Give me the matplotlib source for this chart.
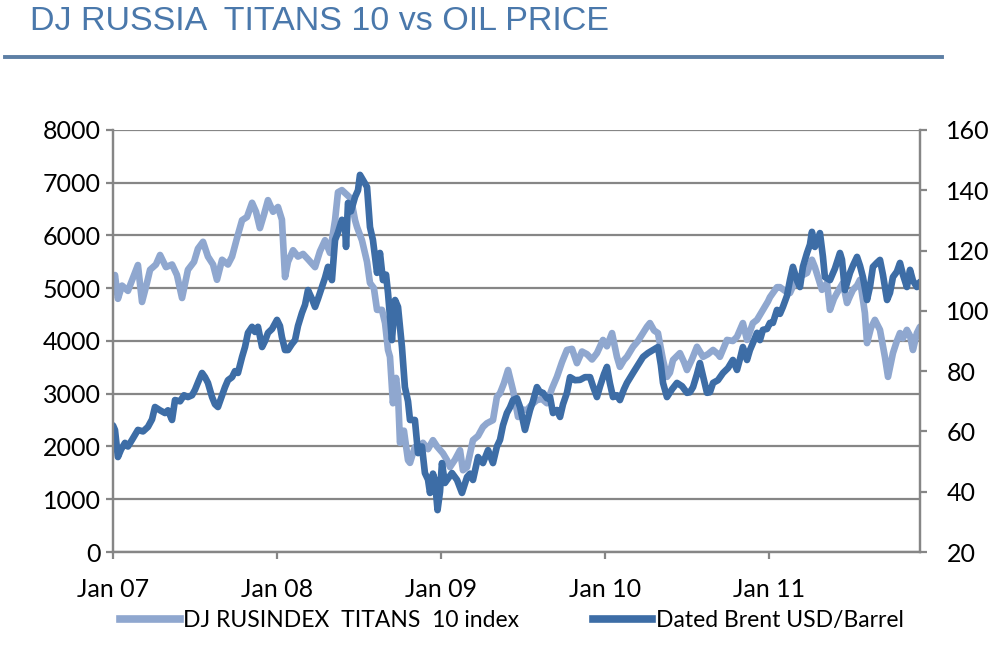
import matplotlib
matplotlib.use("Agg")
import matplotlib.pyplot as plt
from matplotlib.lines import Line2D

# DJ Russia Titans 10 index (left axis), time as decimal years
titans_t = [2007.000, 2007.012, 2007.030, 2007.055, 2007.091, 2007.122, 2007.152, 2007.177,
            2007.207, 2007.226, 2007.262, 2007.287, 2007.323, 2007.360, 2007.390, 2007.421,
            2007.457, 2007.494, 2007.518, 2007.549, 2007.579, 2007.610, 2007.634, 2007.665,
            2007.701, 2007.726, 2007.756, 2007.787, 2007.817, 2007.848, 2007.872, 2007.896,
            2007.921, 2007.945, 2007.976, 2008.006, 2008.030, 2008.049, 2008.067, 2008.098,
            2008.128, 2008.159, 2008.189, 2008.232, 2008.262, 2008.293, 2008.323, 2008.354,
            2008.372, 2008.396, 2008.427, 2008.451, 2008.476, 2008.488, 2008.518, 2008.549,
            2008.567, 2008.591, 2008.610, 2008.640, 2008.659, 2008.677, 2008.689, 2008.707,
            2008.726, 2008.738, 2008.750, 2008.774, 2008.799, 2008.811, 2008.841, 2008.860,
            2008.890, 2008.921, 2008.951, 2008.976, 2009.012, 2009.037, 2009.055, 2009.085,
            2009.116, 2009.134, 2009.159, 2009.195, 2009.226, 2009.256, 2009.280, 2009.317,
            2009.341, 2009.360, 2009.384, 2009.409, 2009.439, 2009.470, 2009.494, 2009.524,
            2009.555, 2009.585, 2009.616, 2009.646, 2009.677, 2009.707, 2009.738, 2009.768,
            2009.799, 2009.829, 2009.860, 2009.890, 2009.921, 2009.951, 2009.988, 2010.012,
            2010.043, 2010.073, 2010.091, 2010.116, 2010.134, 2010.171, 2010.201, 2010.232,
            2010.256, 2010.274, 2010.299, 2010.323, 2010.354, 2010.378, 2010.396, 2010.415,
            2010.457, 2010.482, 2010.500, 2010.530, 2010.561, 2010.598, 2010.628, 2010.659,
            2010.689, 2010.701, 2010.744, 2010.780, 2010.805, 2010.841, 2010.866, 2010.902,
            2010.927, 2010.963, 2010.994, 2011.006, 2011.049, 2011.067, 2011.098, 2011.128,
            2011.171, 2011.207, 2011.232, 2011.262, 2011.280, 2011.299, 2011.323, 2011.354,
            2011.372, 2011.396, 2011.415, 2011.451, 2011.476, 2011.494, 2011.512, 2011.537,
            2011.555, 2011.585, 2011.598, 2011.622, 2011.646, 2011.677, 2011.707, 2011.726,
            2011.738, 2011.756, 2011.780, 2011.799, 2011.817, 2011.841, 2011.860, 2011.878,
            2011.902, 2011.921]
titans = [5100, 5250, 4800, 5050, 4950, 5200, 5440, 4740,
          5100, 5350, 5450, 5630, 5400, 5450, 5250, 4815,
          5350, 5500, 5750, 5880, 5600, 5450, 5160, 5540,
          5450, 5600, 5950, 6290, 6350, 6620, 6450, 6140,
          6400, 6670, 6450, 6540, 6300, 5210, 5500, 5720,
          5600, 5650, 5550, 5400, 5700, 5910, 5670, 6290,
          6820, 6860, 6770, 6700, 6290, 6160, 5910, 5500,
          5100, 5000, 4590, 4590, 4340, 3830, 3700, 2820,
          3300, 3000, 2070, 2300, 1740, 1690, 1990, 1900,
          2070, 1950, 2120, 2000, 1870, 1740, 1610, 1750,
          1930, 1550, 1610, 2120, 2200, 2370, 2440, 2500,
          2940, 3010, 3200, 3450, 3070, 2560, 2700, 2690,
          2800, 2880, 2900, 2820, 3100, 3320, 3600, 3830,
          3850, 3580, 3800, 3750, 3650, 3770, 4020, 3900,
          4150, 3700, 3510, 3640, 3700, 3890, 4000, 4150,
          4270, 4340, 4200, 4150, 3640, 3320, 3400, 3640,
          3770, 3600, 3450, 3650, 3890, 3700, 3750, 3830,
          3750, 3700, 4020, 4000, 4080, 4340, 4020, 4340,
          4400, 4590, 4750, 4830, 5020, 5020, 4950, 4910,
          5210, 5250, 5290, 5540, 5400, 5210, 4970, 5100,
          4590, 4800, 4910, 5100, 4720, 4850, 4970, 5050,
          5160, 4530, 3960, 4250, 4400, 4210, 3700, 3320,
          3500, 3770, 4000, 4150, 4050, 4210, 4100, 3830,
          4150, 4270]

# Dated Brent, USD/barrel (right axis)
brent_t = [2007.000, 2007.012, 2007.030, 2007.049, 2007.073, 2007.091, 2007.116, 2007.152,
           2007.183, 2007.213, 2007.238, 2007.256, 2007.287, 2007.317, 2007.335, 2007.360,
           2007.378, 2007.409, 2007.433, 2007.457, 2007.482, 2007.500, 2007.524, 2007.543,
           2007.561, 2007.579, 2007.604, 2007.622, 2007.640, 2007.665, 2007.683, 2007.701,
           2007.726, 2007.744, 2007.762, 2007.787, 2007.805, 2007.823, 2007.848, 2007.866,
           2007.884, 2007.909, 2007.927, 2007.945, 2007.970, 2008.000, 2008.018, 2008.030,
           2008.049, 2008.067, 2008.091, 2008.110, 2008.128, 2008.152, 2008.171, 2008.189,
           2008.213, 2008.232, 2008.250, 2008.274, 2008.293, 2008.311, 2008.335, 2008.354,
           2008.372, 2008.396, 2008.415, 2008.421, 2008.433, 2008.451, 2008.476, 2008.494,
           2008.506, 2008.524, 2008.549, 2008.567, 2008.585, 2008.610, 2008.628, 2008.646,
           2008.665, 2008.677, 2008.689, 2008.701, 2008.720, 2008.738, 2008.762, 2008.780,
           2008.799, 2008.811, 2008.841, 2008.860, 2008.884, 2008.902, 2008.921, 2008.933,
           2008.951, 2008.963, 2008.979, 2008.994, 2009.006, 2009.024, 2009.037, 2009.067,
           2009.098, 2009.128, 2009.159, 2009.177, 2009.195, 2009.226, 2009.256, 2009.287,
           2009.317, 2009.341, 2009.360, 2009.378, 2009.402, 2009.421, 2009.439, 2009.463,
           2009.482, 2009.512, 2009.543, 2009.561, 2009.585, 2009.604, 2009.622, 2009.646,
           2009.665, 2009.683, 2009.707, 2009.726, 2009.744, 2009.768, 2009.787, 2009.817,
           2009.848, 2009.878, 2009.909, 2009.927, 2009.951, 2009.970, 2009.994, 2010.012,
           2010.030, 2010.049, 2010.073, 2010.091, 2010.116, 2010.134, 2010.171, 2010.201,
           2010.232, 2010.262, 2010.293, 2010.323, 2010.341, 2010.354, 2010.378, 2010.409,
           2010.439, 2010.470, 2010.500, 2010.518, 2010.537, 2010.561, 2010.579, 2010.604,
           2010.622, 2010.640, 2010.659, 2010.689, 2010.720, 2010.750, 2010.780, 2010.805,
           2010.823, 2010.841, 2010.866, 2010.884, 2010.902, 2010.927, 2010.945, 2010.963,
           2010.988, 2011.006, 2011.024, 2011.049, 2011.067, 2011.085, 2011.110, 2011.128,
           2011.146, 2011.171, 2011.189, 2011.207, 2011.232, 2011.250, 2011.262, 2011.280,
           2011.299, 2011.311, 2011.329, 2011.341, 2011.372, 2011.402, 2011.433, 2011.445,
           2011.463, 2011.494, 2011.512, 2011.537, 2011.555, 2011.573, 2011.598, 2011.616,
           2011.634, 2011.659, 2011.677, 2011.695, 2011.720, 2011.738, 2011.756, 2011.780,
           2011.799, 2011.817, 2011.841, 2011.860, 2011.878, 2011.902, 2011.921]
brent = [62.0, 60.5, 51.5, 54.0, 56.2, 55.0, 57.2, 60.5,
         60.0, 61.5, 64.0, 68.1, 67.0, 66.1, 67.0, 63.8,
         70.4, 70.0, 72.0, 71.4, 72.0, 73.8, 77.0, 79.4,
         78.0, 76.1, 71.4, 69.0, 68.1, 72.0, 74.7, 77.0,
         78.0, 80.0, 79.4, 84.7, 88.0, 92.7, 94.7, 93.0,
         94.7, 88.0, 90.0, 92.7, 94.0, 97.0, 95.0, 91.3,
         87.0, 87.0, 89.0, 90.3, 95.0, 99.3, 102.0, 106.9,
         104.0, 101.3, 104.0, 107.9, 111.0, 114.6, 110.2, 123.5,
         126.0, 130.2, 128.0, 121.2, 135.8, 133.0, 137.8, 140.0,
         145.1, 143.4, 141.1, 127.8, 123.5, 112.6, 119.2, 110.2,
         112.0, 105.9, 98.0, 90.3, 103.6, 101.3, 88.0, 74.7,
         70.0, 63.8, 63.8, 52.8, 55.0, 46.2, 44.0, 39.6,
         46.0, 43.9, 33.9, 40.0, 49.5, 42.9, 43.9, 46.2,
         43.9, 39.6, 44.9, 46.0, 43.9, 51.5, 49.5, 53.8,
         49.5, 55.0, 57.2, 62.0, 66.1, 68.0, 70.4, 71.0,
         68.1, 60.5, 67.1, 70.0, 74.7, 73.0, 72.8, 71.0,
         71.4, 66.1, 67.1, 64.8, 69.0, 72.8, 78.0, 77.0,
         77.1, 78.0, 78.0, 75.0, 71.4, 75.0, 79.0, 81.4,
         76.0, 71.4, 72.0, 70.4, 74.0, 76.1, 79.4, 82.0,
         84.7, 86.0, 87.0, 88.0, 82.0, 76.1, 71.4, 74.0,
         76.1, 75.0, 72.8, 73.0, 74.7, 79.0, 82.7, 77.0,
         72.8, 73.0, 76.1, 77.0, 79.4, 81.0, 83.7, 80.4,
         84.0, 88.0, 83.7, 87.0, 89.3, 92.7, 90.3, 93.7,
         94.0, 96.0, 96.0, 100.3, 99.0, 101.3, 105.0, 110.2,
         114.6, 110.0, 107.9, 114.6, 119.2, 122.0, 126.2, 121.2,
         124.0, 125.8, 118.0, 111.2, 110.2, 114.0, 119.2, 117.0,
         106.9, 112.6, 115.0, 117.9, 115.0, 111.2, 103.6, 108.0,
         114.6, 116.0, 116.9, 112.0, 103.6, 106.0, 111.2, 113.0,
         115.9, 112.0, 107.9, 113.6, 110.0, 107.9, 109.6]

year_ticks = [2007, 2008, 2009, 2010, 2011]
year_labels = ["Jan 07", "Jan 08", "Jan 09", "Jan 10", "Jan 11"]

light = "#8fa7cf"
dark = "#3d6da6"
grey = "#868686"

plt.rcParams["font.family"] = ["Lato", "DejaVu Sans"]

fig = plt.figure(figsize=(10, 6.46), dpi=100)
ax = fig.add_axes([0.113, 0.1455, 0.807, 0.6533])
ax2 = ax.twinx()

ax.plot(titans_t, titans, color=light, lw=4.8, solid_joinstyle="round", solid_capstyle="round")
ax2.plot(brent_t, brent, color=dark, lw=4.8, solid_joinstyle="round", solid_capstyle="round")

ax.set_xlim(2007, 2011.921)
ax.set_ylim(0, 8000)
ax2.set_ylim(20, 160)
ax.set_yticks(range(0, 8001, 1000))
ax2.set_yticks(range(20, 161, 20))
ax.set_xticks(year_ticks)
ax.set_xticklabels(year_labels)

ax.grid(axis="y", color=grey, lw=1.6)
ax.set_axisbelow(True)
for a in (ax, ax2):
    a.spines["top"].set_visible(False)
    for s in ("left", "right", "bottom"):
        a.spines[s].set_color(grey)
        a.spines[s].set_linewidth(1.6)
    a.tick_params(colors=grey, width=1.6, length=5, labelsize=18, labelcolor="black")
ax.tick_params(axis="x", pad=14)
ax.tick_params(axis="y", pad=4)
ax2.tick_params(axis="y", pad=14)

fig.text(0.03, 0.966, "DJ RUSSIA  TITANS 10 vs OIL PRICE", color="#4a78ab", fontsize=24.5,
         va="center", ha="left", family=["Liberation Sans", "DejaVu Sans"])
fig.add_artist(Line2D([0.005, 0.942], [0.912, 0.912], color="#5d7fa5", lw=2.8))

handles = [Line2D([], [], color=light, lw=5.5), Line2D([], [], color=dark, lw=5.5)]
fig.legend(handles, ["DJ RUSINDEX  TITANS  10 index", "Dated Brent USD/Barrel"],
           loc="center", bbox_to_anchor=(0.512, 0.04), ncol=2, frameon=False,
           fontsize=16.5, handlelength=2.6, handletextpad=0.17, columnspacing=3.2)

fig.savefig("out.png", dpi=100)
